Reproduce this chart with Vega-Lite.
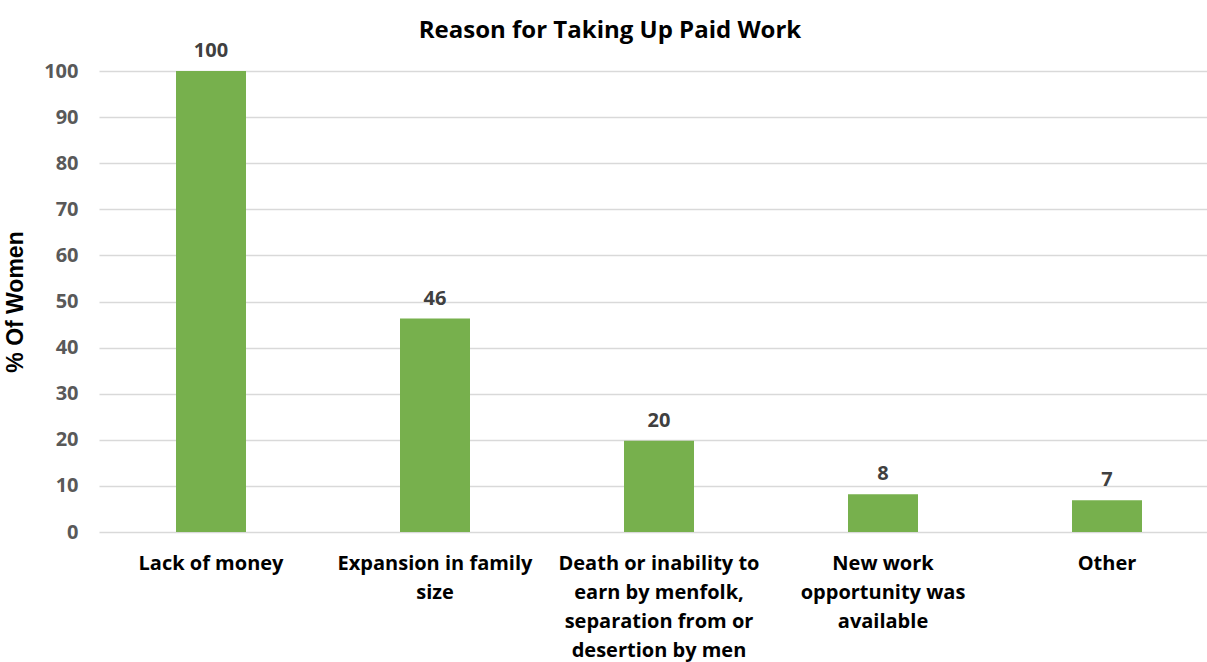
{
  "$schema": "https://vega.github.io/schema/vega-lite/v6.json",
  "autosize": {"type": "none"},
  "padding": {"left": 99, "top": 71, "right": 0, "bottom": 130},
  "width": 1120,
  "height": 461,
  "background": "white",
  "title": {
    "text": "Reason for Taking Up Paid Work",
    "font": "Open Sans",
    "fontSize": 24,
    "fontWeight": "bold",
    "color": "#000000",
    "anchor": "middle",
    "dx": -49,
    "dy": 6,
    "offset": 4
  },
  "data": {
    "values": [
      {"reason": "Lack of money", "pct": 100, "order": 1},
      {"reason": "Expansion in family|size", "pct": 46.3, "order": 2},
      {"reason": "Death or  inability to|earn by menfolk,|separation from or|desertion by men", "pct": 19.8, "order": 3},
      {"reason": "New work|opportunity was|available", "pct": 8.2, "order": 4},
      {"reason": "Other", "pct": 6.9, "order": 5}
    ]
  },
  "encoding": {
    "x": {
      "field": "reason",
      "type": "nominal",
      "sort": {"field": "order"},
      "scale": {"paddingInner": 0.6875, "paddingOuter": 0.34375},
      "axis": {
        "title": null,
        "labelAngle": 0,
        "labelExpr": "split(datum.value, '|')",
        "labelFont": "Open Sans",
        "labelFontSize": 20,
        "labelFontWeight": "bold",
        "labelColor": "#000000",
        "labelLineHeight": 29,
        "labelPadding": 21,
        "labelLimit": 300,
        "domain": false,
        "ticks": false
      }
    },
    "y": {
      "field": "pct",
      "type": "quantitative",
      "scale": {"domain": [0, 100]},
      "axis": {
        "title": "% Of Women",
        "titleFont": "Liberation Sans",
        "titleFontSize": 23,
        "titleFontWeight": "bold",
        "titleColor": "#000000",
        "titlePadding": 16,
        "values": [0, 10, 20, 30, 40, 50, 60, 70, 80, 90, 100],
        "labelFont": "Open Sans",
        "labelFontSize": 20,
        "labelFontWeight": "bold",
        "labelColor": "#595959",
        "labelPadding": 21,
        "domain": false,
        "ticks": false,
        "grid": true,
        "gridColor": "#d9d9d9",
        "gridWidth": 1.5
      }
    }
  },
  "layer": [
    {"mark": {"type": "bar", "color": "#77B04D"}},
    {
      "mark": {
        "type": "text",
        "dy": -20,
        "font": "Open Sans",
        "fontSize": 20,
        "fontWeight": "bold",
        "color": "#404040"
      },
      "encoding": {"text": {"field": "pct", "type": "quantitative", "format": ".0f"}}
    }
  ],
  "config": {"view": {"stroke": null}}
}
